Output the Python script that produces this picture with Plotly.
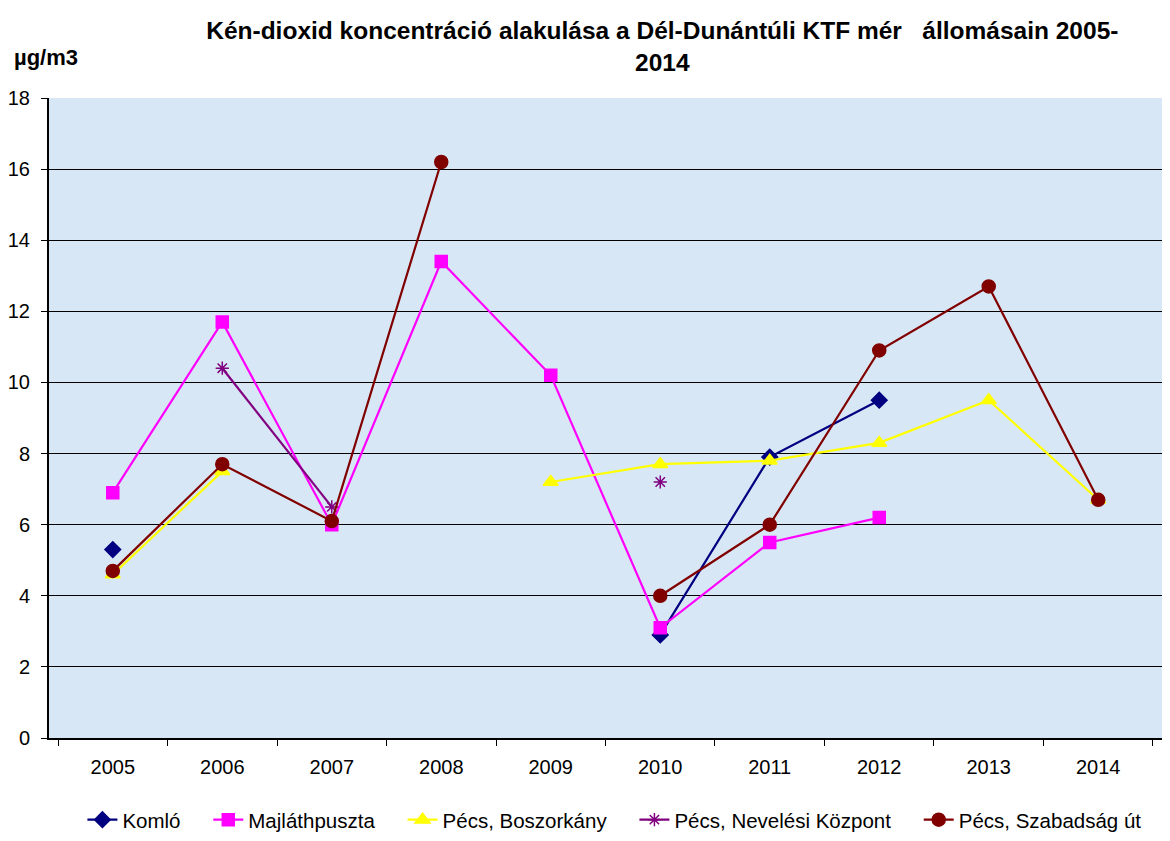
import plotly.graph_objects as go

# === Data ===
years = ["2005", "2006", "2007", "2008", "2009", "2010", "2011", "2012", "2013", "2014"]

komlo = [5.3, None, None, None, None, 2.9, 7.9, 9.5, None, None]
majlathpuszta = [6.9, 11.7, 6.0, 13.4, 10.2, 3.1, 5.5, 6.2, None, None]
boszorkany = [4.6, 7.5, None, None, 7.2, 7.7, 7.8, 8.3, 9.5, 6.7]
neveles = [None, 10.4, 6.5, None, None, 7.2, None, None, None, None]
szabadsag = [4.7, 7.7, 6.1, 16.2, None, 4.0, 6.0, 10.9, 12.7, 6.7]

series = [
    ("Komló", komlo, "#000080", "diamond", 12),
    ("Majláthpuszta", majlathpuszta, "#ff00ff", "square", 12),
    ("Pécs, Boszorkány", boszorkany, "#ffff00", "triangle-up", 13),
    ("Pécs, Nevelési Központ", neveles, "#800080", "asterisk-open", 11),
    ("Pécs, Szabadság út", szabadsag, "#800000", "circle", 13),
]

# non-breaking spaces widen the gaps between legend entries
pad = "\u00a0" * 4

fig = go.Figure()
for i, (name, vals, color, symbol, size) in enumerate(series):
    fig.add_trace(
        go.Scatter(
            x=years,
            y=vals,
            name=name + (pad if i < len(series) - 1 else ""),
            mode="lines+markers",
            connectgaps=False,
            line=dict(color=color, width=2.2),
            marker=dict(
                symbol=symbol,
                size=size,
                color=color,
                line=dict(color=color, width=1.5),
            ),
        )
    )

# --- Layout ---
# the page body has an 8px margin, so the figure is kept inside the window
fig.update_layout(
    width=1154,
    height=825,
    paper_bgcolor="white",
    plot_bgcolor="#d8e7f6",
    font=dict(family="Liberation Sans, Arial", size=20, color="black"),
    margin=dict(l=39, r=0, t=90, b=95),
    title=dict(
        text="<b>Kén-dioxid koncentráció alakulása a Dél-Dunántúli KTF mér   állomásain 2005-<br>2014</b>",
        x=0.567,
        xanchor="center",
        y=0.962,
        yanchor="top",
        font=dict(size=24.5),
    ),
    xaxis=dict(
        type="category",
        showgrid=False,
        showline=True,
        linecolor="black",
        linewidth=2,
        ticks="outside",
        tickson="boundaries",
        ticklen=6,
        tickcolor="black",
        ticklabelstandoff=10,
        tickfont=dict(size=20),
    ),
    yaxis=dict(
        range=[0, 18],
        dtick=2,
        showgrid=True,
        gridcolor="black",
        gridwidth=1,
        showline=True,
        linecolor="black",
        linewidth=2,
        ticks="outside",
        ticklen=6,
        tickcolor="black",
        ticklabelstandoff=7,
        tickfont=dict(size=20),
        zeroline=False,
    ),
    legend=dict(
        orientation="h",
        x=0.508,
        xanchor="center",
        yref="container",
        y=0.016,
        yanchor="middle",
        font=dict(size=20.5),
    ),
    annotations=[
        dict(
            text="<b>µg/m3</b>",
            xref="paper",
            yref="paper",
            x=-0.033,
            y=1.064,
            xanchor="left",
            yanchor="middle",
            showarrow=False,
            font=dict(size=22),
        )
    ],
)

fig.write_html("out.html")
